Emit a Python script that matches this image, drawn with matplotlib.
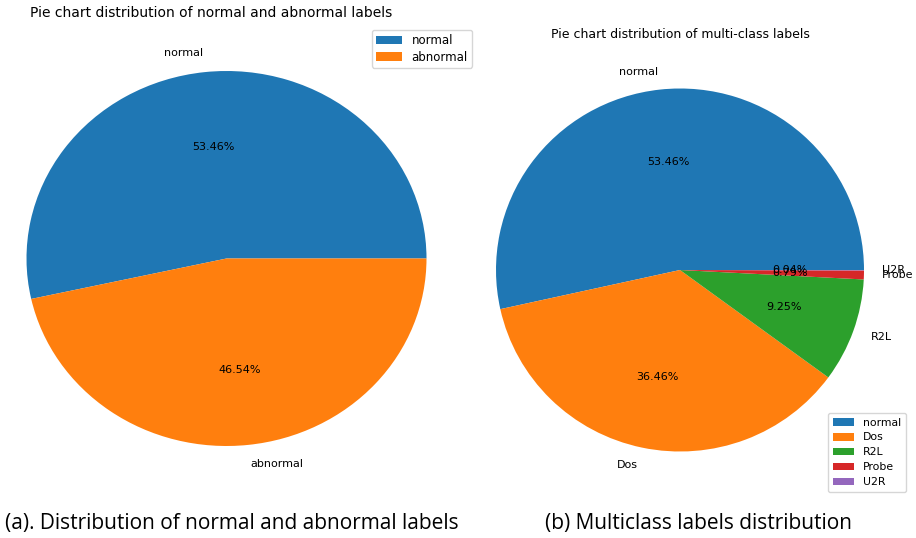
import matplotlib
matplotlib.use("Agg")
import matplotlib.pyplot as plt

# Binary label distribution
binary_labels = ["normal", "abnormal"]
binary_values = [53.46, 46.54]

# Multi-class label distribution
multi_labels = ["normal", "Dos", "R2L", "Probe", "U2R"]
multi_values = [53.46, 36.46, 9.25, 0.79, 0.04]

captions = ["(a). Distribution of normal and abnormal labels",
            "(b) Multiclass labels distribution"]

W, H = 916, 538
fig = plt.figure(figsize=(W / 100, H / 100), dpi=100)
plt.rcParams["font.family"] = ["DejaVu Sans"]


def place_axes(cx, cy, rx, ry, lim=1.25):
    # position axes (pixel coords, y from top) so that unit radius maps to rx, ry
    w = 2 * lim * rx
    h = 2 * lim * ry
    left = cx - w / 2
    bottom = (H - cy) - h / 2
    ax = fig.add_axes([left / W, bottom / H, w / W, h / H])
    return ax, lim


colors = ["#1f77b4", "#ff7f0e", "#2ca02c", "#d62728", "#9467bd"]

# Left pie
ax1, lim = place_axes(226.5, 258.5, 200, 187.5)
w1, t1, a1 = ax1.pie(binary_values, labels=binary_labels, autopct="%1.2f%%",
                     colors=colors[:2], textprops={"fontsize": 8})
ax1.set_aspect("auto")
ax1.set_xlim(-lim, lim)
ax1.set_ylim(-lim, lim)
fig.text(211 / W, 1 - 13 / H, "Pie chart distribution of normal and abnormal labels",
         ha="center", va="center", fontsize=10)
fig.legend(w1, binary_labels, loc="upper right", bbox_to_anchor=(472 / W, 1 - 30 / H),
           borderaxespad=0, fontsize=8.5, handlelength=2.2, borderpad=0.35,
           labelspacing=0.3)

# Right pie
ax2, lim = place_axes(680, 270, 184, 181.5)
w2, t2, a2 = ax2.pie(multi_values, labels=multi_labels, autopct="%1.2f%%",
                     colors=colors, textprops={"fontsize": 8})
ax2.set_aspect("auto")
ax2.set_xlim(-lim, lim)
ax2.set_ylim(-lim, lim)
fig.text(680 / W, 1 - 34 / H, "Pie chart distribution of multi-class labels",
         ha="center", va="center", fontsize=9)
fig.legend(w2, multi_labels, loc="lower right", bbox_to_anchor=(906 / W, 1 - 492 / H),
           borderaxespad=0, fontsize=7.8, handlelength=2.0, borderpad=0.45,
           labelspacing=0.45)

# Captions
fig.text(5 / W, 1 - 523 / H, captions[0], ha="left", va="center",
         fontsize=15, family="Open Sans")
fig.text(545 / W, 1 - 523 / H, captions[1], ha="left", va="center",
         fontsize=15, family="Open Sans")

fig.savefig("out.png", dpi=100, facecolor="white")
